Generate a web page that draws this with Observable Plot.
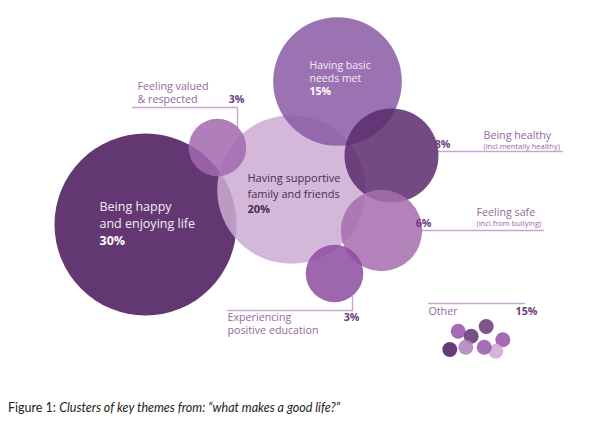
<!DOCTYPE html>
<html>
<head>
<meta charset="utf-8">
<script src="https://cdn.jsdelivr.net/npm/d3@7"></script>
<script src="https://cdn.jsdelivr.net/npm/@observablehq/plot@0.6"></script>
<style>
  body { margin: 0; background: #fff; }
  #caption { font-family: Lato, "Open Sans", sans-serif; font-size: 12.5px; line-height: 16px; color: #222; margin: 5px 0 0 8px; }
</style>
</head>
<body>
<div id="chart"></div>
<div id="caption">Figure 1: <i>Clusters of key themes from: “what makes a good life?”</i></div>
<script>
// ---- data ----
const themes = ["Being happy\nand enjoying life", "Having supportive\nfamily and friends", "Having basic\nneeds met", "Being healthy", "Feeling safe", "Feeling valued\n& respected", "Experiencing\npositive education"];
const shares = [30, 20, 15, 8, 6, 3, 3];
const notes = ["", "", "", "(incl.mentally healthy)", "(incl.from bullying)", "", ""];
const otherLabel = "Other";
const otherShare = 15;

// ---- layout (bubble centres in page pixels) ----
const bubbleX = [145, 291, 337, 391, 381, 217, 334];
const bubbleY = [224, 189, 81, 155, 230, 147, 273];
const bubbleColor = ["#481559", "#ccacd2", "#8a59a4", "#5a2a6c", "#a66caf", "#a268ae", "#8e4ba2"];
const drawOrder = [1, 2, 5, 0, 4, 6, 3];

const otherDotX = [457.7, 485.7, 470.7, 502.3, 495.3, 465.3, 483.7, 449.3];
const otherDotY = [330.7, 326, 335.7, 339.3, 350.7, 346.7, 346.7, 349];
const otherDotColor = ["#9a55ab", "#6a3d7a", "#643874", "#9a55ab", "#ccacd2", "#b184be", "#9a5aab", "#4f2162"];

const W = 593, H = 395;
const bubbles = drawOrder.map(i => ({x: bubbleX[i], y: bubbleY[i], v: shares[i], c: bubbleColor[i]}));
const others = otherDotX.map((x, i) => ({x, y: otherDotY[i], c: otherDotColor[i]}));

const nameCol = "#94679f", pctCol = "#6c3c7c", lineCol = "#c9a6d1";

// leader lines
const leaders = [
  {k: 0, pts: [[132, 107], [237, 107], [237, 127]]},
  {k: 1, pts: [[438, 151], [562, 151]]},
  {k: 2, pts: [[421, 230], [543, 230]]},
  {k: 3, pts: [[227, 310], [352, 310], [352, 296]]},
  {k: 4, pts: [[428, 303], [524, 303]]}
].flatMap(d => d.pts.map(p => ({k: d.k, x: p[0], y: p[1]})));

const fontFam = "'Open Sans', sans-serif";

// split a label into one row per line
function lines(text, x, y, step, extra) {
  return text.split("\n").map((t, j) => ({x, y: y + j * step, text: t, ...extra}));
}

// inside labels
const inside = [
  {i: 0, x: 99, y: 206, step: 17, size: 12.5, fill: "#f3ecf5", pfill: "#ffffff"},
  {i: 1, x: 247, y: 178, step: 15.5, size: 11, fill: "#4b2a57", pfill: "#4b2a57"},
  {i: 2, x: 309, y: 65, step: 13, size: 10.5, fill: "#f3ecf5", pfill: "#ffffff"}
];
const insideNames = inside.flatMap(d => lines(themes[d.i], d.x, d.y, d.step, {size: d.size, fill: d.fill}));
const insidePcts = inside.map(d => ({x: d.x, y: d.y + 2 * d.step, text: shares[d.i] + "%", size: d.size, fill: d.pfill}));

const outsideNames = [
  ...lines(themes[5], 137, 86, 13),
  ...lines(themes[3], 483, 135, 13),
  ...lines(themes[4], 476, 212, 13),
  ...lines(themes[6], 227, 317, 13.5),
  ...lines(otherLabel, 428, 311, 13)
];
const outsideNotes = [
  {x: 483, y: 146, text: notes[3]},
  {x: 476, y: 223.5, text: notes[4]}
];
const outsidePcts = [
  {x: 236, y: 99.5, text: shares[5] + "%", anchor: "end"},
  {x: 442, y: 144.5, text: shares[3] + "%", anchor: "start"},
  {x: 423, y: 223, text: shares[4] + "%", anchor: "start"},
  {x: 351, y: 317.5, text: shares[6] + "%", anchor: "end"},
  {x: 526, y: 311, text: otherShare + "%", anchor: "end"}
];

const chart = Plot.plot({
  width: W, height: H,
  margin: 0,
  x: {domain: [0, W], range: [0, W], axis: null},
  y: {domain: [0, H], range: [0, H], axis: null},
  r: {type: "sqrt", domain: [0, 30], range: [0, 91]},
  style: {fontFamily: fontFam, background: "#fff"},
  marks: [
    Plot.line(leaders, {x: "x", y: "y", z: "k", stroke: lineCol, strokeWidth: 1.4}),
    Plot.dot(bubbles, {x: "x", y: "y", r: "v", fill: "c", fillOpacity: 0.85, stroke: "none"}),
    Plot.dot(others, {x: "x", y: "y", r: 7.5, fill: "c", fillOpacity: 0.88, stroke: "none"}),
    Plot.text(insideNames, {x: "x", y: "y", text: "text", fill: "fill", fontSize: d => d.size, textAnchor: "start", lineAnchor: "middle"}),
    Plot.text(insidePcts, {x: "x", y: "y", text: "text", fill: "fill", fontSize: d => d.size, fontWeight: "bold", textAnchor: "start", lineAnchor: "middle"}),
    Plot.text(outsideNames, {x: "x", y: "y", text: "text", fill: nameCol, fontSize: 10.7, textAnchor: "start", lineAnchor: "middle"}),
    Plot.text(outsideNotes, {x: "x", y: "y", text: "text", fill: nameCol, fontSize: 7.5, textAnchor: "start", lineAnchor: "middle"}),
    Plot.text(outsidePcts, {x: "x", y: "y", text: "text", fill: pctCol, fontSize: 10.7, fontWeight: "bold", textAnchor: d => d.anchor, lineAnchor: "middle"})
  ]
});
document.getElementById("chart").appendChild(chart);
</script>
</body>
</html>
